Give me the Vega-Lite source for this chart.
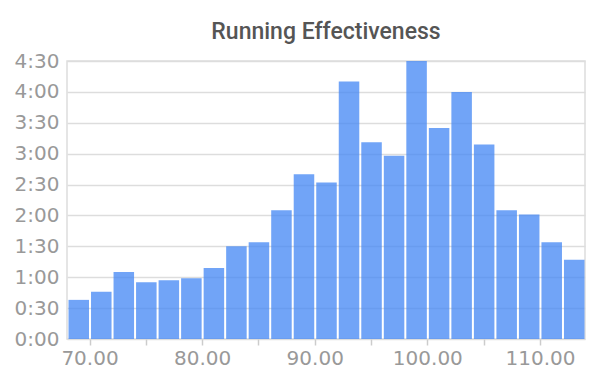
{
  "$schema": "https://vega.github.io/schema/vega-lite/v6.json",
  "width": 518,
  "height": 278,
  "autosize": {"type": "none"},
  "padding": {"left": 67, "top": 61, "right": 15, "bottom": 51},
  "background": "white",
  "title": {"text": "Running Effectiveness", "font": "Roboto", "fontSize": 23, "fontWeight": 500, "color": "#555555", "offset": 7, "anchor": "middle"},
  "config": {"view": {"stroke": "#dddddd", "strokeWidth": 1.5}},
  "data": {"values": [
    {"start": 68, "end": 70, "minutes": 38},
    {"start": 70, "end": 72, "minutes": 46},
    {"start": 72, "end": 74, "minutes": 65},
    {"start": 74, "end": 76, "minutes": 55},
    {"start": 76, "end": 78, "minutes": 57},
    {"start": 78, "end": 80, "minutes": 59},
    {"start": 80, "end": 82, "minutes": 69},
    {"start": 82, "end": 84, "minutes": 90},
    {"start": 84, "end": 86, "minutes": 94},
    {"start": 86, "end": 88, "minutes": 125},
    {"start": 88, "end": 90, "minutes": 160},
    {"start": 90, "end": 92, "minutes": 152},
    {"start": 92, "end": 94, "minutes": 250},
    {"start": 94, "end": 96, "minutes": 191},
    {"start": 96, "end": 98, "minutes": 178},
    {"start": 98, "end": 100, "minutes": 270},
    {"start": 100, "end": 102, "minutes": 205},
    {"start": 102, "end": 104, "minutes": 240},
    {"start": 104, "end": 106, "minutes": 189},
    {"start": 106, "end": 108, "minutes": 125},
    {"start": 108, "end": 110, "minutes": 121},
    {"start": 110, "end": 112, "minutes": 94},
    {"start": 112, "end": 114, "minutes": 77}
  ]},
  "mark": {"type": "bar", "color": "#4285F4", "opacity": 0.75, "binSpacing": 2},
  "encoding": {
    "x": {
      "field": "start", "type": "quantitative", "bin": "binned",
      "scale": {"domain": [68, 114], "nice": false, "zero": false},
      "axis": {
        "title": null,
        "values": [70, 75, 80, 85, 90, 95, 100, 105, 110],
        "labelExpr": "datum.value % 10 == 0 ? format(datum.value, '.2f') : ''",
        "grid": false,
        "domain": false,
        "ticks": true, "tickColor": "#cccccc", "tickSize": 6, "tickWidth": 1.5,
        "labelFont": "DejaVu Sans", "labelFontSize": 20, "labelColor": "#999999", "labelPadding": 3
      }
    },
    "x2": {"field": "end"},
    "y": {
      "field": "minutes", "type": "quantitative",
      "scale": {"domain": [0, 270], "nice": false},
      "axis": {
        "title": null,
        "values": [0, 30, 60, 90, 120, 150, 180, 210, 240, 270],
        "labelExpr": "floor(datum.value / 60) + ':' + (datum.value % 60 == 0 ? '00' : '30')",
        "grid": true, "gridColor": "#dddddd", "gridWidth": 1.5,
        "domain": false, "ticks": false,
        "labelFont": "DejaVu Sans", "labelFontSize": 20, "labelColor": "#999999", "labelPadding": 8
      }
    }
  }
}
